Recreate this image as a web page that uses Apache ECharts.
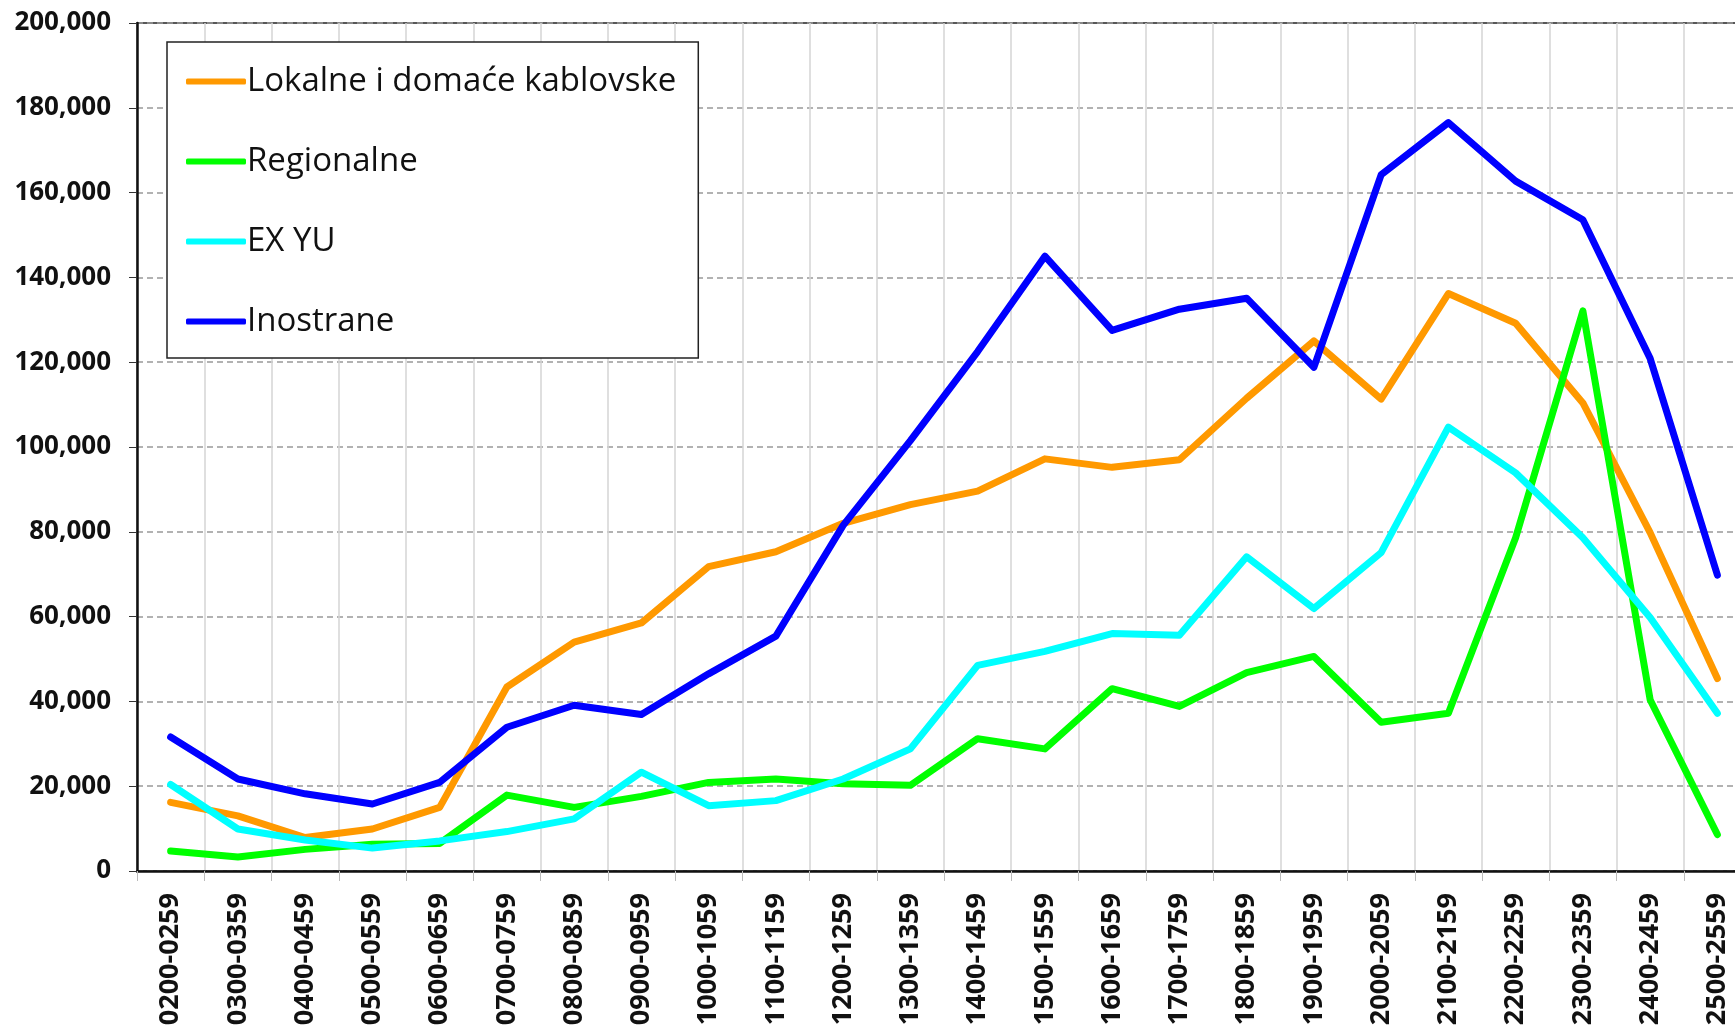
<!DOCTYPE html>
<html>
<head>
<meta charset="utf-8">
<script src="https://cdn.jsdelivr.net/npm/echarts@6/dist/echarts.min.js"></script>
<style>
html,body{margin:0;padding:0;background:#fff;overflow:hidden;}
#chart{width:1735px;height:1031px;}
</style>
</head>
<body>
<div id="chart"></div>
<script>
const categories = ["0200-0259","0300-0359","0400-0459","0500-0559","0600-0659","0700-0759","0800-0859","0900-0959","1000-1059","1100-1159","1200-1259","1300-1359","1400-1459","1500-1559","1600-1659","1700-1759","1800-1859","1900-1959","2000-2059","2100-2159","2200-2259","2300-2359","2400-2459","2500-2559"];
const seriesNames = ["Lokalne i domaće kablovske","Regionalne","EX YU","Inostrane"];
const lokalne = [16200,13000,7900,9900,15000,43400,54000,58500,71800,75300,82000,86400,89600,97200,95200,97000,111500,125000,111300,136200,129200,110400,79800,45400];
const regionalne = [4700,3300,5100,6300,6500,17900,15000,17600,20900,21700,20600,20200,31200,28800,43000,38800,46800,50600,35100,37200,78600,132100,40400,8600];
const exyu = [20400,9900,7300,5400,7100,9300,12300,23300,15400,16600,21700,28800,48500,51800,56000,55600,74100,61900,75100,104700,93900,78600,59800,37200];
const inostrane = [31600,21700,18200,15800,20900,33900,39100,36900,46500,55400,81500,101500,122500,145000,127500,132500,135100,118800,164200,176500,162700,153600,120900,69800];
const colors = ["#FF9900","#00FF00","#00FFFF","#0000FF"];
const yMin = 0, yMax = 200000, yStep = 20000;

const chart = echarts.init(document.getElementById('chart'), null, {renderer:'canvas'});
const fontFam = '"Open Sans", "DejaVu Sans", sans-serif';
const dataSets = [lokalne, regionalne, exyu, inostrane];
chart.setOption({
  animation:false,
  backgroundColor:'#fff',
  grid:{left:137, top:23, width:1614, bottom:160, outerBoundsMode:'none', containLabel:false,
    show:true, borderColor:'#222', borderWidth:1.5, backgroundColor:'transparent'},
  legend:{
    orient:'vertical', left:167, top:42,
    data:seriesNames,
    icon:'roundRect', itemWidth:60, itemHeight:6, itemGap:39,
    padding:[19,22,16,19],
    borderColor:'#222', borderWidth:1.5, backgroundColor:'#fff',
    textStyle:{fontFamily:fontFam, fontSize:33, color:'#111', lineHeight:41, padding:[0,0,0,-4]}
  },
  xAxis:{
    type:'category', data:categories, boundaryGap:true,
    axisLine:{lineStyle:{color:'#111', width:2.5}},
    axisTick:{show:true, length:10, lineStyle:{color:'#bbb'}},
    splitLine:{show:true, lineStyle:{color:'#d4d4d4', width:1.5}},
    axisLabel:{rotate:90, margin:22, interval:0, fontFamily:fontFam, fontWeight:'bold', fontSize:27, color:'#111', hideOverlap:false}
  },
  yAxis:{
    type:'value', min:yMin, max:yMax, interval:yStep,
    axisLine:{show:true, lineStyle:{color:'#111', width:2.5}},
    axisTick:{show:true, length:8, lineStyle:{color:'#333'}},
    splitLine:{show:true, lineStyle:{color:'#999', width:1.5, type:[6,4]}},
    axisLabel:{margin:26, fontFamily:fontFam, fontWeight:'bold', fontSize:26, color:'#111',
      formatter:v=>v.toLocaleString('en-US')}
  },
  series: seriesNames.map((n,i)=>({
    name:n, type:'line', data:dataSets[i], symbol:'none', showSymbol:false,
    lineStyle:{color:colors[i], width:7, cap:'round', join:'round'},
    itemStyle:{color:colors[i]}
  }))
});
</script>
</body>
</html>
